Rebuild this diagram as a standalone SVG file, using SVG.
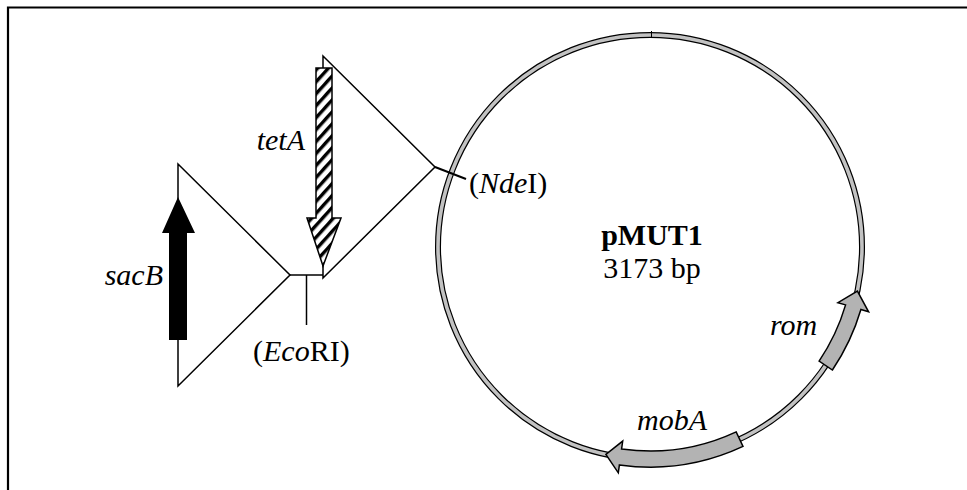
<svg xmlns="http://www.w3.org/2000/svg" width="967" height="490" viewBox="0 0 967 490">
<style>
.t{font-family:"Liberation Serif","Times New Roman",serif;font-size:30px;fill:#000}
.i{font-style:italic}
.b{font-weight:bold}
.ln{fill:none;stroke:#000;stroke-width:1.5}
.gene{fill:#b3b3b3;stroke:#000;stroke-width:1.5;stroke-linejoin:miter}
</style>
<defs>
<pattern id="hatch" patternUnits="userSpaceOnUse" width="8" height="8" patternTransform="rotate(-48)">
<rect width="8" height="8" fill="#fff"/>
<rect y="0" width="8" height="3.4" fill="#000"/>
</pattern>
</defs>
<rect width="967" height="490" fill="#fff"/>
<path d="M8 490 V7.5 H967" fill="none" stroke="#000" stroke-width="2.2"/>

<g id="plasmid">
<circle cx="650" cy="247" r="212" fill="none" stroke="#000" stroke-width="6"/>
<circle cx="650" cy="247" r="212" fill="none" stroke="#c2c2c2" stroke-width="3.6"/>
<line x1="651.5" y1="31" x2="651.5" y2="38" stroke="#000" stroke-width="1"/>
<text class="t b" x="652" y="245" text-anchor="middle">pMUT1</text>
<text class="t" x="652" y="278" text-anchor="middle">3173 bp</text>
</g>

<g id="rom">
<path class="gene" d="M819.1 361.1 A204 204 0 0 0 845.6 304.9 L837.9 302.7 L857.4 291.1 L868.6 311.8 L860.9 309.5 A220 220 0 0 1 832.4 370 Z"/>
<text class="t i" x="770" y="335">rom</text>
</g>

<g id="mobA">
<path class="gene" d="M736.2 431.9 A204 204 0 0 1 621.6 449 L622.7 441.1 L605.9 454.4 L618.3 472.8 L619.4 464.9 A220 220 0 0 0 743 446.4 Z"/>
<text class="t i" x="637" y="430">mobA</text>
</g>

<g id="connectors">
<polygon class="ln" points="323,56 435,167 323,278"/>
<polygon class="ln" points="178,164 290,275 178,386"/>
<line class="ln" x1="290" y1="275" x2="323" y2="275"/>
<line class="ln" x1="306.5" y1="275" x2="306.5" y2="325"/>
<line x1="435" y1="167" x2="466" y2="179" stroke="#000" stroke-width="2"/>
</g>

<g id="sacB">
<polygon points="169,340 187,340 187,233 195,233 178,197 162,233 169,233" fill="#000"/>
<text class="t i" x="163" y="285" text-anchor="end">sacB</text>
</g>

<g id="tetA">
<polygon points="316,68 332,68 332,218 341,218 323,266 307,218 316,218" fill="url(#hatch)" stroke="#000" stroke-width="1.5"/>
<text class="t i" x="305" y="150" text-anchor="end">tetA</text>
</g>

<g id="EcoRI">
<text class="t" x="253" y="361">(<tspan class="i">Eco</tspan>RI)</text>
</g>

<g id="NdeI">
<text class="t" x="469" y="193">(<tspan class="i">Nde</tspan>I)</text>
</g>
</svg>
